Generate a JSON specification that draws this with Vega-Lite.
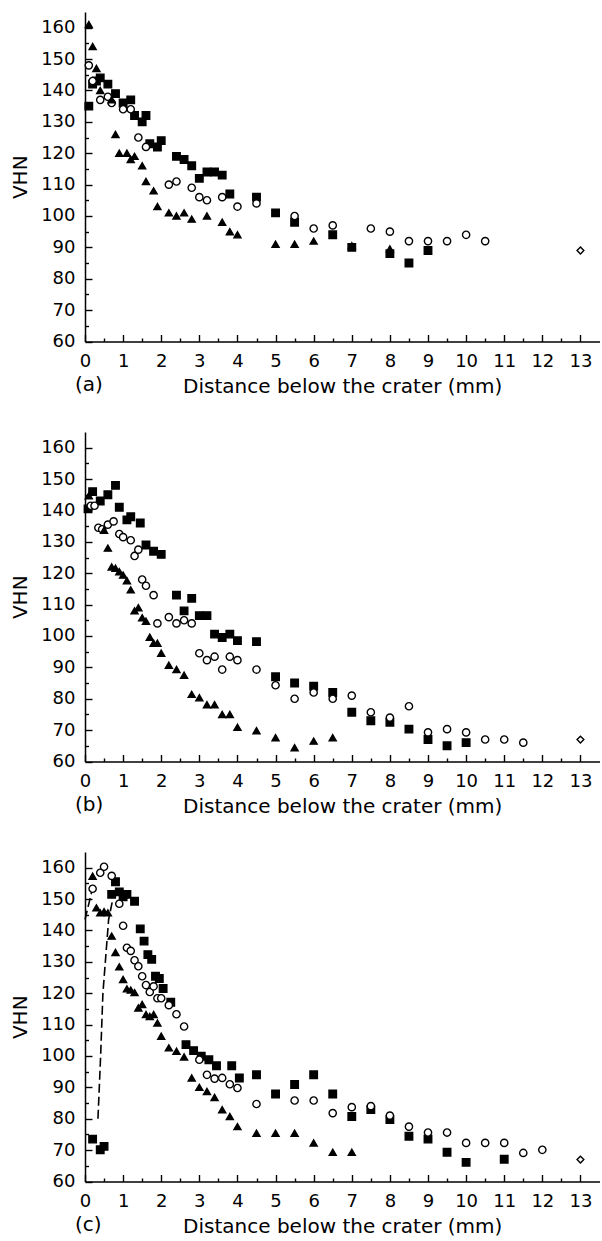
{
  "$schema": "https://vega.github.io/schema/vega-lite/v6.json",
  "background": "white",
  "padding": {"left": 10, "top": 12, "right": 0, "bottom": 0},
  "bounds": "flush",
  "spacing": 90,
  "config": {
    "view": {"stroke": null},
    "font": "DejaVu Sans",
    "axis": {
      "domainColor": "black", "domainWidth": 1.5, "tickColor": "black", "tickWidth": 1.4,
      "labelColor": "black", "titleColor": "black", "labelFont": "DejaVu Sans", "titleFont": "DejaVu Sans",
      "labelFontSize": 18, "titleFontSize": 20, "titleFontWeight": "normal", "grid": false,
      "labelOverlap": false, "labelFlush": false
    },
    "title": {"font": "DejaVu Sans", "fontSize": 20, "fontWeight": "normal", "color": "black"}
  },
  "datasets": {
    "pts": [
      {"panel":"a","series":"square","distance":0.1,"vhn":135},{"panel":"a","series":"square","distance":0.2,"vhn":142},{"panel":"a","series":"square","distance":0.3,"vhn":143},{"panel":"a","series":"square","distance":0.4,"vhn":144},{"panel":"a","series":"square","distance":0.6,"vhn":142},{"panel":"a","series":"square","distance":0.8,"vhn":139},{"panel":"a","series":"square","distance":1.0,"vhn":136},{"panel":"a","series":"square","distance":1.2,"vhn":137},{"panel":"a","series":"square","distance":1.3,"vhn":132},{"panel":"a","series":"square","distance":1.5,"vhn":130},{"panel":"a","series":"square","distance":1.6,"vhn":132},{"panel":"a","series":"square","distance":1.7,"vhn":123},{"panel":"a","series":"square","distance":1.9,"vhn":122},{"panel":"a","series":"square","distance":2.0,"vhn":124},{"panel":"a","series":"square","distance":2.4,"vhn":119},{"panel":"a","series":"square","distance":2.6,"vhn":118},{"panel":"a","series":"square","distance":2.8,"vhn":116},{"panel":"a","series":"square","distance":3.0,"vhn":112},{"panel":"a","series":"square","distance":3.2,"vhn":114},{"panel":"a","series":"square","distance":3.4,"vhn":114},{"panel":"a","series":"square","distance":3.6,"vhn":113},{"panel":"a","series":"square","distance":3.8,"vhn":107},{"panel":"a","series":"square","distance":4.5,"vhn":106},{"panel":"a","series":"square","distance":5,"vhn":101},{"panel":"a","series":"square","distance":5.5,"vhn":98},{"panel":"a","series":"square","distance":6.5,"vhn":94},{"panel":"a","series":"square","distance":7,"vhn":90},{"panel":"a","series":"square","distance":8,"vhn":88},{"panel":"a","series":"square","distance":8.5,"vhn":85},{"panel":"a","series":"square","distance":9,"vhn":89},
      {"panel":"a","series":"circle","distance":0.1,"vhn":148},{"panel":"a","series":"circle","distance":0.2,"vhn":143},{"panel":"a","series":"circle","distance":0.4,"vhn":137},{"panel":"a","series":"circle","distance":0.6,"vhn":138},{"panel":"a","series":"circle","distance":0.7,"vhn":136},{"panel":"a","series":"circle","distance":1.0,"vhn":134},{"panel":"a","series":"circle","distance":1.2,"vhn":134},{"panel":"a","series":"circle","distance":1.4,"vhn":125},{"panel":"a","series":"circle","distance":1.6,"vhn":122},{"panel":"a","series":"circle","distance":2.2,"vhn":110},{"panel":"a","series":"circle","distance":2.4,"vhn":111},{"panel":"a","series":"circle","distance":2.8,"vhn":109},{"panel":"a","series":"circle","distance":3.0,"vhn":106},{"panel":"a","series":"circle","distance":3.2,"vhn":105},{"panel":"a","series":"circle","distance":3.6,"vhn":106},{"panel":"a","series":"circle","distance":4.0,"vhn":103},{"panel":"a","series":"circle","distance":4.5,"vhn":104},{"panel":"a","series":"circle","distance":5.5,"vhn":100},{"panel":"a","series":"circle","distance":6,"vhn":96},{"panel":"a","series":"circle","distance":6.5,"vhn":97},{"panel":"a","series":"circle","distance":7.5,"vhn":96},{"panel":"a","series":"circle","distance":8,"vhn":95},{"panel":"a","series":"circle","distance":8.5,"vhn":92},{"panel":"a","series":"circle","distance":9,"vhn":92},{"panel":"a","series":"circle","distance":9.5,"vhn":92},{"panel":"a","series":"circle","distance":10,"vhn":94},{"panel":"a","series":"circle","distance":10.5,"vhn":92},
      {"panel":"a","series":"triangle","distance":0.1,"vhn":161},{"panel":"a","series":"triangle","distance":0.2,"vhn":154},{"panel":"a","series":"triangle","distance":0.3,"vhn":147},{"panel":"a","series":"triangle","distance":0.4,"vhn":140},{"panel":"a","series":"triangle","distance":0.7,"vhn":137},{"panel":"a","series":"triangle","distance":0.8,"vhn":126},{"panel":"a","series":"triangle","distance":0.9,"vhn":120},{"panel":"a","series":"triangle","distance":1.1,"vhn":120},{"panel":"a","series":"triangle","distance":1.2,"vhn":118},{"panel":"a","series":"triangle","distance":1.3,"vhn":119},{"panel":"a","series":"triangle","distance":1.5,"vhn":116},{"panel":"a","series":"triangle","distance":1.6,"vhn":111},{"panel":"a","series":"triangle","distance":1.8,"vhn":108},{"panel":"a","series":"triangle","distance":1.9,"vhn":103},{"panel":"a","series":"triangle","distance":2.2,"vhn":101},{"panel":"a","series":"triangle","distance":2.4,"vhn":100},{"panel":"a","series":"triangle","distance":2.6,"vhn":101},{"panel":"a","series":"triangle","distance":2.8,"vhn":99},{"panel":"a","series":"triangle","distance":3.2,"vhn":100},{"panel":"a","series":"triangle","distance":3.6,"vhn":98},{"panel":"a","series":"triangle","distance":3.8,"vhn":95},{"panel":"a","series":"triangle","distance":4.0,"vhn":94},{"panel":"a","series":"triangle","distance":5,"vhn":91},{"panel":"a","series":"triangle","distance":5.5,"vhn":91},{"panel":"a","series":"triangle","distance":6,"vhn":92},{"panel":"a","series":"triangle","distance":7,"vhn":90.5},{"panel":"a","series":"triangle","distance":8,"vhn":89.5},
      {"panel":"a","series":"diamond","distance":13,"vhn":89},

      {"panel":"b","series":"square","distance":0.08,"vhn":140.5},{"panel":"b","series":"square","distance":0.2,"vhn":146},{"panel":"b","series":"square","distance":0.4,"vhn":143},{"panel":"b","series":"square","distance":0.6,"vhn":145},{"panel":"b","series":"square","distance":0.8,"vhn":148},{"panel":"b","series":"square","distance":0.9,"vhn":141},{"panel":"b","series":"square","distance":1.1,"vhn":137},{"panel":"b","series":"square","distance":1.2,"vhn":138},{"panel":"b","series":"square","distance":1.45,"vhn":136},{"panel":"b","series":"square","distance":1.6,"vhn":129},{"panel":"b","series":"square","distance":1.8,"vhn":127},{"panel":"b","series":"square","distance":2.0,"vhn":126},{"panel":"b","series":"square","distance":2.4,"vhn":113},{"panel":"b","series":"square","distance":2.6,"vhn":108},{"panel":"b","series":"square","distance":2.8,"vhn":112},{"panel":"b","series":"square","distance":3.0,"vhn":106.5},{"panel":"b","series":"square","distance":3.2,"vhn":106.5},{"panel":"b","series":"square","distance":3.4,"vhn":100.6},{"panel":"b","series":"square","distance":3.6,"vhn":99.5},{"panel":"b","series":"square","distance":3.8,"vhn":100.6},{"panel":"b","series":"square","distance":4.0,"vhn":98.5},{"panel":"b","series":"square","distance":4.5,"vhn":98.2},{"panel":"b","series":"square","distance":5,"vhn":87},{"panel":"b","series":"square","distance":5.5,"vhn":85},{"panel":"b","series":"square","distance":6,"vhn":84},{"panel":"b","series":"square","distance":6.5,"vhn":82},{"panel":"b","series":"square","distance":7,"vhn":75.7},{"panel":"b","series":"square","distance":7.5,"vhn":73},{"panel":"b","series":"square","distance":8,"vhn":72.5},{"panel":"b","series":"square","distance":8.5,"vhn":70.3},{"panel":"b","series":"square","distance":9,"vhn":67},{"panel":"b","series":"square","distance":9.5,"vhn":65},{"panel":"b","series":"square","distance":10,"vhn":66},
      {"panel":"b","series":"circle","distance":0.15,"vhn":141.5},{"panel":"b","series":"circle","distance":0.25,"vhn":141.5},{"panel":"b","series":"circle","distance":0.35,"vhn":134.5},{"panel":"b","series":"circle","distance":0.45,"vhn":134},{"panel":"b","series":"circle","distance":0.6,"vhn":135.5},{"panel":"b","series":"circle","distance":0.75,"vhn":136.5},{"panel":"b","series":"circle","distance":0.9,"vhn":132.5},{"panel":"b","series":"circle","distance":1.0,"vhn":131.5},{"panel":"b","series":"circle","distance":1.2,"vhn":130.5},{"panel":"b","series":"circle","distance":1.3,"vhn":125.5},{"panel":"b","series":"circle","distance":1.4,"vhn":127.5},{"panel":"b","series":"circle","distance":1.5,"vhn":118},{"panel":"b","series":"circle","distance":1.6,"vhn":116},{"panel":"b","series":"circle","distance":1.8,"vhn":113},{"panel":"b","series":"circle","distance":1.9,"vhn":104},{"panel":"b","series":"circle","distance":2.2,"vhn":106},{"panel":"b","series":"circle","distance":2.4,"vhn":104},{"panel":"b","series":"circle","distance":2.6,"vhn":105},{"panel":"b","series":"circle","distance":2.8,"vhn":104},{"panel":"b","series":"circle","distance":3.0,"vhn":94.5},{"panel":"b","series":"circle","distance":3.2,"vhn":92.3},{"panel":"b","series":"circle","distance":3.4,"vhn":93.4},{"panel":"b","series":"circle","distance":3.6,"vhn":89.3},{"panel":"b","series":"circle","distance":3.8,"vhn":93.4},{"panel":"b","series":"circle","distance":4.0,"vhn":92.3},{"panel":"b","series":"circle","distance":4.5,"vhn":89.3},{"panel":"b","series":"circle","distance":5,"vhn":84.3},{"panel":"b","series":"circle","distance":5.5,"vhn":80},{"panel":"b","series":"circle","distance":6,"vhn":82},{"panel":"b","series":"circle","distance":6.5,"vhn":80},{"panel":"b","series":"circle","distance":7,"vhn":81},{"panel":"b","series":"circle","distance":7.5,"vhn":75.7},{"panel":"b","series":"circle","distance":8,"vhn":74},{"panel":"b","series":"circle","distance":8.5,"vhn":77.6},{"panel":"b","series":"circle","distance":9,"vhn":69.3},{"panel":"b","series":"circle","distance":9.5,"vhn":70.3},{"panel":"b","series":"circle","distance":10,"vhn":69.3},{"panel":"b","series":"circle","distance":10.5,"vhn":67},{"panel":"b","series":"circle","distance":11,"vhn":67},{"panel":"b","series":"circle","distance":11.5,"vhn":66},
      {"panel":"b","series":"triangle","distance":0.1,"vhn":144.7},{"panel":"b","series":"triangle","distance":0.5,"vhn":133.7},{"panel":"b","series":"triangle","distance":0.6,"vhn":128},{"panel":"b","series":"triangle","distance":0.7,"vhn":122},{"panel":"b","series":"triangle","distance":0.8,"vhn":121.6},{"panel":"b","series":"triangle","distance":0.9,"vhn":120.5},{"panel":"b","series":"triangle","distance":1.0,"vhn":119.4},{"panel":"b","series":"triangle","distance":1.1,"vhn":117.6},{"panel":"b","series":"triangle","distance":1.2,"vhn":114.7},{"panel":"b","series":"triangle","distance":1.3,"vhn":108},{"panel":"b","series":"triangle","distance":1.4,"vhn":109},{"panel":"b","series":"triangle","distance":1.5,"vhn":105.8},{"panel":"b","series":"triangle","distance":1.6,"vhn":104.7},{"panel":"b","series":"triangle","distance":1.7,"vhn":99.6},{"panel":"b","series":"triangle","distance":1.8,"vhn":97.7},{"panel":"b","series":"triangle","distance":1.9,"vhn":97.7},{"panel":"b","series":"triangle","distance":2.0,"vhn":94.5},{"panel":"b","series":"triangle","distance":2.2,"vhn":90.7},{"panel":"b","series":"triangle","distance":2.4,"vhn":89.3},{"panel":"b","series":"triangle","distance":2.6,"vhn":87.5},{"panel":"b","series":"triangle","distance":2.8,"vhn":81.4},{"panel":"b","series":"triangle","distance":3.0,"vhn":80.3},{"panel":"b","series":"triangle","distance":3.2,"vhn":78.1},{"panel":"b","series":"triangle","distance":3.4,"vhn":78.1},{"panel":"b","series":"triangle","distance":3.6,"vhn":75},{"panel":"b","series":"triangle","distance":3.8,"vhn":75},{"panel":"b","series":"triangle","distance":4.0,"vhn":70.9},{"panel":"b","series":"triangle","distance":4.5,"vhn":69.8},{"panel":"b","series":"triangle","distance":5,"vhn":67.6},{"panel":"b","series":"triangle","distance":5.5,"vhn":64.4},{"panel":"b","series":"triangle","distance":6,"vhn":66.5},{"panel":"b","series":"triangle","distance":6.5,"vhn":67.6},
      {"panel":"b","series":"diamond","distance":13,"vhn":67},

      {"panel":"c","series":"square","distance":0.2,"vhn":73.5},{"panel":"c","series":"square","distance":0.4,"vhn":70.1},{"panel":"c","series":"square","distance":0.5,"vhn":71.2},{"panel":"c","series":"square","distance":0.7,"vhn":151.5},{"panel":"c","series":"square","distance":0.8,"vhn":155.5},{"panel":"c","series":"square","distance":0.9,"vhn":152.3},{"panel":"c","series":"square","distance":1.0,"vhn":150.7},{"panel":"c","series":"square","distance":1.1,"vhn":151.5},{"panel":"c","series":"square","distance":1.3,"vhn":149.3},{"panel":"c","series":"square","distance":1.45,"vhn":140.5},{"panel":"c","series":"square","distance":1.55,"vhn":136.6},{"panel":"c","series":"square","distance":1.65,"vhn":132.3},{"panel":"c","series":"square","distance":1.75,"vhn":130.8},{"panel":"c","series":"square","distance":1.85,"vhn":125.4},{"panel":"c","series":"square","distance":1.95,"vhn":124.7},{"panel":"c","series":"square","distance":2.05,"vhn":121.5},{"panel":"c","series":"square","distance":2.25,"vhn":117.1},{"panel":"c","series":"square","distance":2.65,"vhn":103.6},{"panel":"c","series":"square","distance":2.85,"vhn":101.7},{"panel":"c","series":"square","distance":3.05,"vhn":99.9},{"panel":"c","series":"square","distance":3.25,"vhn":98.8},{"panel":"c","series":"square","distance":3.45,"vhn":96.9},{"panel":"c","series":"square","distance":3.85,"vhn":96.9},{"panel":"c","series":"square","distance":4.05,"vhn":93},{"panel":"c","series":"square","distance":4.5,"vhn":94},{"panel":"c","series":"square","distance":5,"vhn":87.9},{"panel":"c","series":"square","distance":5.5,"vhn":90.9},{"panel":"c","series":"square","distance":6,"vhn":94},{"panel":"c","series":"square","distance":6.5,"vhn":87.9},{"panel":"c","series":"square","distance":7,"vhn":80.7},{"panel":"c","series":"square","distance":7.5,"vhn":82.9},{"panel":"c","series":"square","distance":8,"vhn":79.7},{"panel":"c","series":"square","distance":8.5,"vhn":74.4},{"panel":"c","series":"square","distance":9,"vhn":73.5},{"panel":"c","series":"square","distance":9.5,"vhn":69.3},{"panel":"c","series":"square","distance":10,"vhn":66.1},{"panel":"c","series":"square","distance":11,"vhn":67.1},
      {"panel":"c","series":"circle","distance":0.2,"vhn":153.3},{"panel":"c","series":"circle","distance":0.4,"vhn":158.4},{"panel":"c","series":"circle","distance":0.5,"vhn":160.3},{"panel":"c","series":"circle","distance":0.7,"vhn":157.4},{"panel":"c","series":"circle","distance":0.9,"vhn":148.5},{"panel":"c","series":"circle","distance":1.0,"vhn":141.5},{"panel":"c","series":"circle","distance":1.1,"vhn":134.5},{"panel":"c","series":"circle","distance":1.2,"vhn":133.5},{"panel":"c","series":"circle","distance":1.3,"vhn":130.5},{"panel":"c","series":"circle","distance":1.4,"vhn":128.6},{"panel":"c","series":"circle","distance":1.5,"vhn":125.4},{"panel":"c","series":"circle","distance":1.6,"vhn":122.6},{"panel":"c","series":"circle","distance":1.7,"vhn":120.4},{"panel":"c","series":"circle","distance":1.8,"vhn":122.2},{"panel":"c","series":"circle","distance":1.9,"vhn":118.4},{"panel":"c","series":"circle","distance":2.0,"vhn":118.4},{"panel":"c","series":"circle","distance":2.2,"vhn":116.2},{"panel":"c","series":"circle","distance":2.4,"vhn":113.3},{"panel":"c","series":"circle","distance":2.6,"vhn":109.4},{"panel":"c","series":"circle","distance":3.0,"vhn":98.8},{"panel":"c","series":"circle","distance":3.2,"vhn":94},{"panel":"c","series":"circle","distance":3.4,"vhn":92.8},{"panel":"c","series":"circle","distance":3.6,"vhn":93},{"panel":"c","series":"circle","distance":3.8,"vhn":91},{"panel":"c","series":"circle","distance":4.0,"vhn":89.8},{"panel":"c","series":"circle","distance":4.5,"vhn":84.7},{"panel":"c","series":"circle","distance":5.5,"vhn":85.8},{"panel":"c","series":"circle","distance":6,"vhn":85.8},{"panel":"c","series":"circle","distance":6.5,"vhn":81.8},{"panel":"c","series":"circle","distance":7,"vhn":83.7},{"panel":"c","series":"circle","distance":7.5,"vhn":84},{"panel":"c","series":"circle","distance":8,"vhn":81},{"panel":"c","series":"circle","distance":8.5,"vhn":77.5},{"panel":"c","series":"circle","distance":9,"vhn":75.6},{"panel":"c","series":"circle","distance":9.5,"vhn":75.6},{"panel":"c","series":"circle","distance":10,"vhn":72.3},{"panel":"c","series":"circle","distance":10.5,"vhn":72.3},{"panel":"c","series":"circle","distance":11,"vhn":72.3},{"panel":"c","series":"circle","distance":11.5,"vhn":69.1},{"panel":"c","series":"circle","distance":12,"vhn":70.1},
      {"panel":"c","series":"triangle","distance":0.2,"vhn":157.3},{"panel":"c","series":"triangle","distance":0.3,"vhn":147.2},{"panel":"c","series":"triangle","distance":0.4,"vhn":145.6},{"panel":"c","series":"triangle","distance":0.5,"vhn":146},{"panel":"c","series":"triangle","distance":0.6,"vhn":145.6},{"panel":"c","series":"triangle","distance":0.7,"vhn":138.2},{"panel":"c","series":"triangle","distance":0.8,"vhn":133},{"panel":"c","series":"triangle","distance":0.9,"vhn":128.4},{"panel":"c","series":"triangle","distance":1.0,"vhn":124.4},{"panel":"c","series":"triangle","distance":1.1,"vhn":121.4},{"panel":"c","series":"triangle","distance":1.2,"vhn":121},{"panel":"c","series":"triangle","distance":1.3,"vhn":120.2},{"panel":"c","series":"triangle","distance":1.4,"vhn":115.3},{"panel":"c","series":"triangle","distance":1.5,"vhn":116.4},{"panel":"c","series":"triangle","distance":1.6,"vhn":113.2},{"panel":"c","series":"triangle","distance":1.7,"vhn":112.6},{"panel":"c","series":"triangle","distance":1.8,"vhn":113.2},{"panel":"c","series":"triangle","distance":1.9,"vhn":110.5},{"panel":"c","series":"triangle","distance":2.0,"vhn":106.3},{"panel":"c","series":"triangle","distance":2.2,"vhn":102.6},{"panel":"c","series":"triangle","distance":2.4,"vhn":101.5},{"panel":"c","series":"triangle","distance":2.6,"vhn":99.7},{"panel":"c","series":"triangle","distance":2.8,"vhn":93},{"panel":"c","series":"triangle","distance":3.0,"vhn":90},{"panel":"c","series":"triangle","distance":3.2,"vhn":88.7},{"panel":"c","series":"triangle","distance":3.4,"vhn":86.8},{"panel":"c","series":"triangle","distance":3.6,"vhn":82.9},{"panel":"c","series":"triangle","distance":3.8,"vhn":80.7},{"panel":"c","series":"triangle","distance":4.0,"vhn":77.5},{"panel":"c","series":"triangle","distance":4.5,"vhn":75.4},{"panel":"c","series":"triangle","distance":5,"vhn":75.4},{"panel":"c","series":"triangle","distance":5.5,"vhn":75.4},{"panel":"c","series":"triangle","distance":6,"vhn":72.3},{"panel":"c","series":"triangle","distance":6.5,"vhn":69.3},{"panel":"c","series":"triangle","distance":7,"vhn":69.3},
      {"panel":"c","series":"diamond","distance":13,"vhn":67}
    ],
    "dash": [
      {"segment":"s1","distance":0,"vhn":143.5},{"segment":"s1","distance":0.2,"vhn":153.5},
      {"segment":"s2","distance":0.34,"vhn":80},{"segment":"s2","distance":0.41,"vhn":100},{"segment":"s2","distance":0.47,"vhn":120},{"segment":"s2","distance":0.54,"vhn":131},{"segment":"s2","distance":0.62,"vhn":143.5},{"segment":"s2","distance":0.73,"vhn":150}
    ]
  },
  "vconcat": [
    {
      "width": 514.5, "height": 329.5,
      "title": {"text": "(a)", "orient": "bottom", "anchor": "start", "frame": "group", "offset": -21, "dx": -10},
      "data": {"name": "pts"},
      "transform": [{"filter": "datum.panel === 'a'"}],
      "mark": {"type": "point", "stroke": "black", "strokeWidth": 1.4, "opacity": 1},
      "encoding": {
        "x": {"field": "distance", "type": "quantitative", "scale": {"domain": [0, 13.5], "nice": false, "zero": false},
          "axis": {"title": "Distance below the crater (mm)", "values": [0,0.5,1,1.5,2,2.5,3,3.5,4,4.5,5,5.5,6,6.5,7,7.5,8,8.5,9,9.5,10,10.5,11,11.5,12,12.5,13],
            "labelExpr": "datum.value % 1 === 0 ? '' + datum.value : ''", "tickSize": {"condition": {"test": "datum.value % 1 !== 0", "value": -3.5}, "value": -7}, "labelPadding": 18, "titlePadding": 2}},
        "y": {"field": "vhn", "type": "quantitative", "scale": {"domain": [60, 165], "nice": false, "zero": false},
          "axis": {"title": "VHN", "values": [60,65,70,75,80,85,90,95,100,105,110,115,120,125,130,135,140,145,150,155,160],
            "labelExpr": "datum.value % 10 === 0 ? '' + datum.value : ''", "tickSize": {"condition": {"test": "datum.value % 10 !== 0", "value": -3.5}, "value": -7}, "labelPadding": 17, "titlePadding": 10}},
        "shape": {"field": "series", "type": "nominal", "scale": {"domain": ["square","circle","triangle","diamond"], "range": ["square","circle","triangle-up","diamond"]}, "legend": null},
        "fill": {"field": "series", "type": "nominal", "scale": {"domain": ["square","circle","triangle","diamond"], "range": ["black","white","black","white"]}, "legend": null},
        "size": {"field": "series", "type": "nominal", "scale": {"domain": ["square","circle","triangle","diamond"], "range": [56, 46, 62, 100]}, "legend": null}
      }
    },
    {
      "width": 514.5, "height": 329.5,
      "title": {"text": "(b)", "orient": "bottom", "anchor": "start", "frame": "group", "offset": -21, "dx": -10},
      "data": {"name": "pts"},
      "transform": [{"filter": "datum.panel === 'b'"}],
      "mark": {"type": "point", "stroke": "black", "strokeWidth": 1.4, "opacity": 1},
      "encoding": {
        "x": {"field": "distance", "type": "quantitative", "scale": {"domain": [0, 13.5], "nice": false, "zero": false},
          "axis": {"title": "Distance below the crater (mm)", "values": [0,0.5,1,1.5,2,2.5,3,3.5,4,4.5,5,5.5,6,6.5,7,7.5,8,8.5,9,9.5,10,10.5,11,11.5,12,12.5,13],
            "labelExpr": "datum.value % 1 === 0 ? '' + datum.value : ''", "tickSize": {"condition": {"test": "datum.value % 1 !== 0", "value": -3.5}, "value": -7}, "labelPadding": 18, "titlePadding": 2}},
        "y": {"field": "vhn", "type": "quantitative", "scale": {"domain": [60, 165], "nice": false, "zero": false},
          "axis": {"title": "VHN", "values": [60,65,70,75,80,85,90,95,100,105,110,115,120,125,130,135,140,145,150,155,160],
            "labelExpr": "datum.value % 10 === 0 ? '' + datum.value : ''", "tickSize": {"condition": {"test": "datum.value % 10 !== 0", "value": -3.5}, "value": -7}, "labelPadding": 17, "titlePadding": 10}},
        "shape": {"field": "series", "type": "nominal", "scale": {"domain": ["square","circle","triangle","diamond"], "range": ["square","circle","triangle-up","diamond"]}, "legend": null},
        "fill": {"field": "series", "type": "nominal", "scale": {"domain": ["square","circle","triangle","diamond"], "range": ["black","white","black","white"]}, "legend": null},
        "size": {"field": "series", "type": "nominal", "scale": {"domain": ["square","circle","triangle","diamond"], "range": [56, 46, 62, 100]}, "legend": null}
      }
    },
    {
      "width": 514.5, "height": 329.5,
      "title": {"text": "(c)", "orient": "bottom", "anchor": "start", "frame": "group", "offset": -21, "dx": -10},
      "encoding": {
        "x": {"field": "distance", "type": "quantitative", "scale": {"domain": [0, 13.5], "nice": false, "zero": false},
          "axis": {"title": "Distance below the crater (mm)", "values": [0,0.5,1,1.5,2,2.5,3,3.5,4,4.5,5,5.5,6,6.5,7,7.5,8,8.5,9,9.5,10,10.5,11,11.5,12,12.5,13],
            "labelExpr": "datum.value % 1 === 0 ? '' + datum.value : ''", "tickSize": {"condition": {"test": "datum.value % 1 !== 0", "value": -3.5}, "value": -7}, "labelPadding": 18, "titlePadding": 2}},
        "y": {"field": "vhn", "type": "quantitative", "scale": {"domain": [60, 165], "nice": false, "zero": false},
          "axis": {"title": "VHN", "values": [60,65,70,75,80,85,90,95,100,105,110,115,120,125,130,135,140,145,150,155,160],
            "labelExpr": "datum.value % 10 === 0 ? '' + datum.value : ''", "tickSize": {"condition": {"test": "datum.value % 10 !== 0", "value": -3.5}, "value": -7}, "labelPadding": 17, "titlePadding": 10}}
      },
      "layer": [
        {
          "data": {"name": "dash"},
          "mark": {"type": "line", "color": "black", "strokeWidth": 1.6, "strokeDash": [9, 4]},
          "encoding": {
            "detail": {"field": "segment", "type": "nominal"}
          }
        },
        {
          "data": {"name": "pts"},
          "transform": [{"filter": "datum.panel === 'c'"}],
          "mark": {"type": "point", "stroke": "black", "strokeWidth": 1.4, "opacity": 1},
          "encoding": {
            "shape": {"field": "series", "type": "nominal", "scale": {"domain": ["square","circle","triangle","diamond"], "range": ["square","circle","triangle-up","diamond"]}, "legend": null},
            "fill": {"field": "series", "type": "nominal", "scale": {"domain": ["square","circle","triangle","diamond"], "range": ["black","white","black","white"]}, "legend": null},
            "size": {"field": "series", "type": "nominal", "scale": {"domain": ["square","circle","triangle","diamond"], "range": [56, 46, 62, 100]}, "legend": null}
          }
        }
      ]
    }
  ]
}
